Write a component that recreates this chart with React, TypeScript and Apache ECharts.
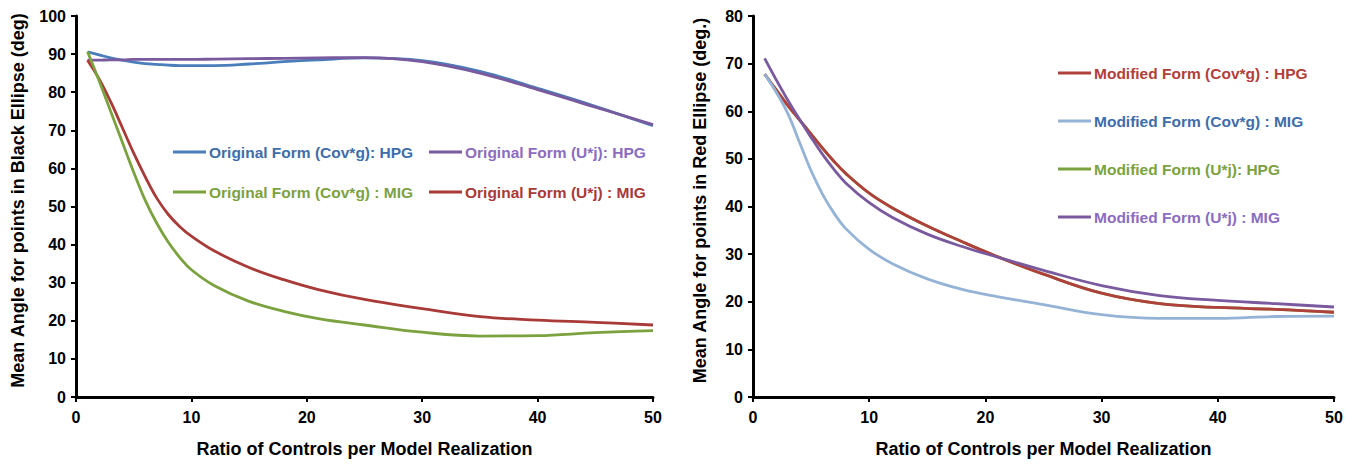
import React, { useEffect, useRef } from "react";
import * as echarts from "echarts";

// ---------- Data ----------
const leftX = [1, 2, 3, 4, 5, 6, 7, 8, 9, 10, 12, 15, 18, 21, 25, 30, 35, 40, 45, 50];
const origCovHPG = [90.6, 89.8, 89.0, 88.4, 87.9, 87.5, 87.3, 87.1, 87.0, 87.0, 87.0, 87.4, 88.0, 88.5, 89.0, 88.3, 85.5, 81.0, 76.3, 71.2];
const origUjHPG = [88.4, 88.4, 88.5, 88.5, 88.6, 88.6, 88.6, 88.6, 88.6, 88.6, 88.7, 88.8, 88.9, 89.0, 89.1, 88.0, 85.0, 80.7, 76.1, 71.5];
const origCovMIG = [90.6, 83, 75, 67, 59, 51.6, 45.6, 40.6, 36.6, 33.4, 29.2, 25.1, 22.5, 20.6, 18.9, 17, 16.0, 16.1, 16.9, 17.4];
const origUjMIG = [88.4, 83.5, 77.5, 70.8, 64, 57.8, 52.2, 47.9, 44.7, 42.2, 38.3, 34, 30.8, 28.2, 25.6, 23.2, 21.1, 20.2, 19.6, 18.9];

const rightX = [1, 2, 3, 4, 5, 6, 7, 8, 10, 12, 15, 18, 21, 25, 30, 35, 40, 45, 50];
const modCovHPG = [67.8, 64.5, 61.2, 58.2, 55.2, 52.2, 49.4, 46.9, 42.8, 39.7, 35.9, 32.6, 29.5, 25.8, 21.8, 19.6, 18.8, 18.4, 17.8];
const modCovMIG = [67.8, 64, 59.5, 53.5, 47.5, 42.5, 38.5, 35.3, 31, 28, 24.8, 22.6, 21.1, 19.4, 17.3, 16.5, 16.5, 16.9, 17.0];
const modUjHPG = [67.8, 64.5, 61.2, 58.2, 55.2, 52.2, 49.4, 46.9, 42.8, 39.7, 35.9, 32.6, 29.5, 25.8, 21.8, 19.6, 18.8, 18.4, 17.8];
const modUjMIG = [71.1, 66.6, 62.3, 58.3, 54.5, 50.9, 47.7, 44.9, 40.8, 37.7, 34.2, 31.6, 29.4, 26.6, 23.4, 21.3, 20.3, 19.6, 18.9];

const xTitle = "Ratio of Controls per Model Realization";
const leftYTitle = "Mean Angle for points in Black Ellipse (deg)";
const rightYTitle = "Mean Angle for points in Red Ellipse (deg.)";

const leftNames = [
  "Original Form (Cov*g): HPG",
  "Original Form (U*j): HPG",
  "Original Form (Cov*g) : MIG",
  "Original Form (U*j) : MIG",
];
const rightNames = [
  "Modified Form (Cov*g) : HPG",
  "Modified Form (Cov*g) : MIG",
  "Modified Form (U*j): HPG",
  "Modified Form (U*j) : MIG",
];

const pairs = (xs: number[], ys: number[]) => xs.map((x, i) => [x, ys[i]]);

const NARROW = "'Liberation Sans Narrow', 'Liberation Sans', Arial, sans-serif";
const WIDE = "'Liberation Sans', Arial, sans-serif";

export default function App() {
  const ref = useRef<HTMLDivElement>(null);

  useEffect(() => {
    if (!ref.current) return;
    const chart = echarts.init(ref.current, undefined, { renderer: "svg" });

    const axisCommon = {
      axisLine: { show: true, onZero: false, lineStyle: { color: "#000", width: 3 } },
      axisTick: { show: true, inside: false, length: 5, lineStyle: { color: "#000", width: 2 } },
      splitLine: { show: false },
      axisLabel: { color: "#000", fontFamily: NARROW, fontWeight: "bold", fontSize: 16 },
    };

    const xAxis = (gridIndex: number) => ({
      ...axisCommon,
      type: "value",
      gridIndex,
      min: 0,
      max: 50,
      interval: 10,
      axisLabel: { ...axisCommon.axisLabel, margin: 12 },
      name: xTitle,
      nameLocation: "middle",
      nameGap: 43,
      nameTextStyle: { color: "#000", fontWeight: "bold", fontFamily: NARROW, fontSize: 18 },
    });

    const yAxis = (gridIndex: number, max: number, name: string, gap: number) => ({
      ...axisCommon,
      type: "value",
      gridIndex,
      min: 0,
      max,
      interval: 10,
      axisLabel: { ...axisCommon.axisLabel, margin: 10 },
      name,
      nameLocation: "middle",
      nameGap: gap,
      nameTextStyle: {
        color: "#000",
        fontWeight: "bold",
        fontFamily: WIDE,
        fontSize: 18,
        padding: [0, 0, 0, 12],
      },
    });

    const line = (name: string, xi: number, data: number[][], color: string, z = 2) => ({
      name,
      type: "line",
      xAxisIndex: xi,
      yAxisIndex: xi,
      data,
      smooth: 0.4,
      symbol: "none",
      z,
      lineStyle: { color, width: 2.8 },
      itemStyle: { color },
    });

    const leg = (name: string, left: number, top: number, textColor: string) => ({
      data: [name],
      left,
      top,
      icon: "rect",
      itemWidth: 33,
      itemHeight: 3,
      itemGap: 0,
      padding: 0,
      selectedMode: false,
      textStyle: { color: textColor, fontFamily: NARROW, fontWeight: "bold", fontSize: 15.5, padding: [0, 0, 0, -2] },
    });

    const c = {
      blue: "#4A7EBB",
      blueText: "#3E6DAA",
      purple: "#7A5A9E",
      purpleText: "#8C6CC0",
      green: "#7BA23F",
      red: "#A83A37",
      red2: "#B0403C",
      lightBlue: "#95B3D7",
    };

    chart.setOption({
      animation: false,
      backgroundColor: "#fff",
      grid: [
        { left: 76, top: 16, width: 577, height: 381 },
        { left: 753, top: 16, width: 581, height: 381 },
      ],
      xAxis: [xAxis(0), xAxis(1)],
      yAxis: [yAxis(0, 100, leftYTitle, 49), yAxis(1, 80, rightYTitle, 44)],
      legend: [
        leg(leftNames[0], 173, 144, c.blueText),
        leg(leftNames[1], 429, 144, c.purpleText),
        leg(leftNames[2], 173, 184, c.green),
        leg(leftNames[3], 429, 184, c.red),
        leg(rightNames[0], 1058, 65, c.red2),
        leg(rightNames[1], 1058, 113, c.blueText),
        leg(rightNames[2], 1058, 161, c.green),
        leg(rightNames[3], 1058, 209, c.purpleText),
      ],
      series: [
        line(leftNames[0], 0, pairs(leftX, origCovHPG), c.blue, 2),
        line(leftNames[1], 0, pairs(leftX, origUjHPG), c.purple, 3),
        line(leftNames[3], 0, pairs(leftX, origUjMIG), c.red, 4),
        line(leftNames[2], 0, pairs(leftX, origCovMIG), c.green, 5),
        line(rightNames[2], 1, pairs(rightX, modUjHPG), c.green, 2),
        line(rightNames[0], 1, pairs(rightX, modCovHPG), c.red2, 3),
        line(rightNames[1], 1, pairs(rightX, modCovMIG), c.lightBlue, 4),
        line(rightNames[3], 1, pairs(rightX, modUjMIG), c.purple, 5),
      ],
    });

    return () => chart.dispose();
  }, []);

  return (
    <div
      ref={ref}
      style={{ position: "absolute", left: 0, top: 0, width: 1358, height: 464, background: "#fff" }}
    />
  );
}
